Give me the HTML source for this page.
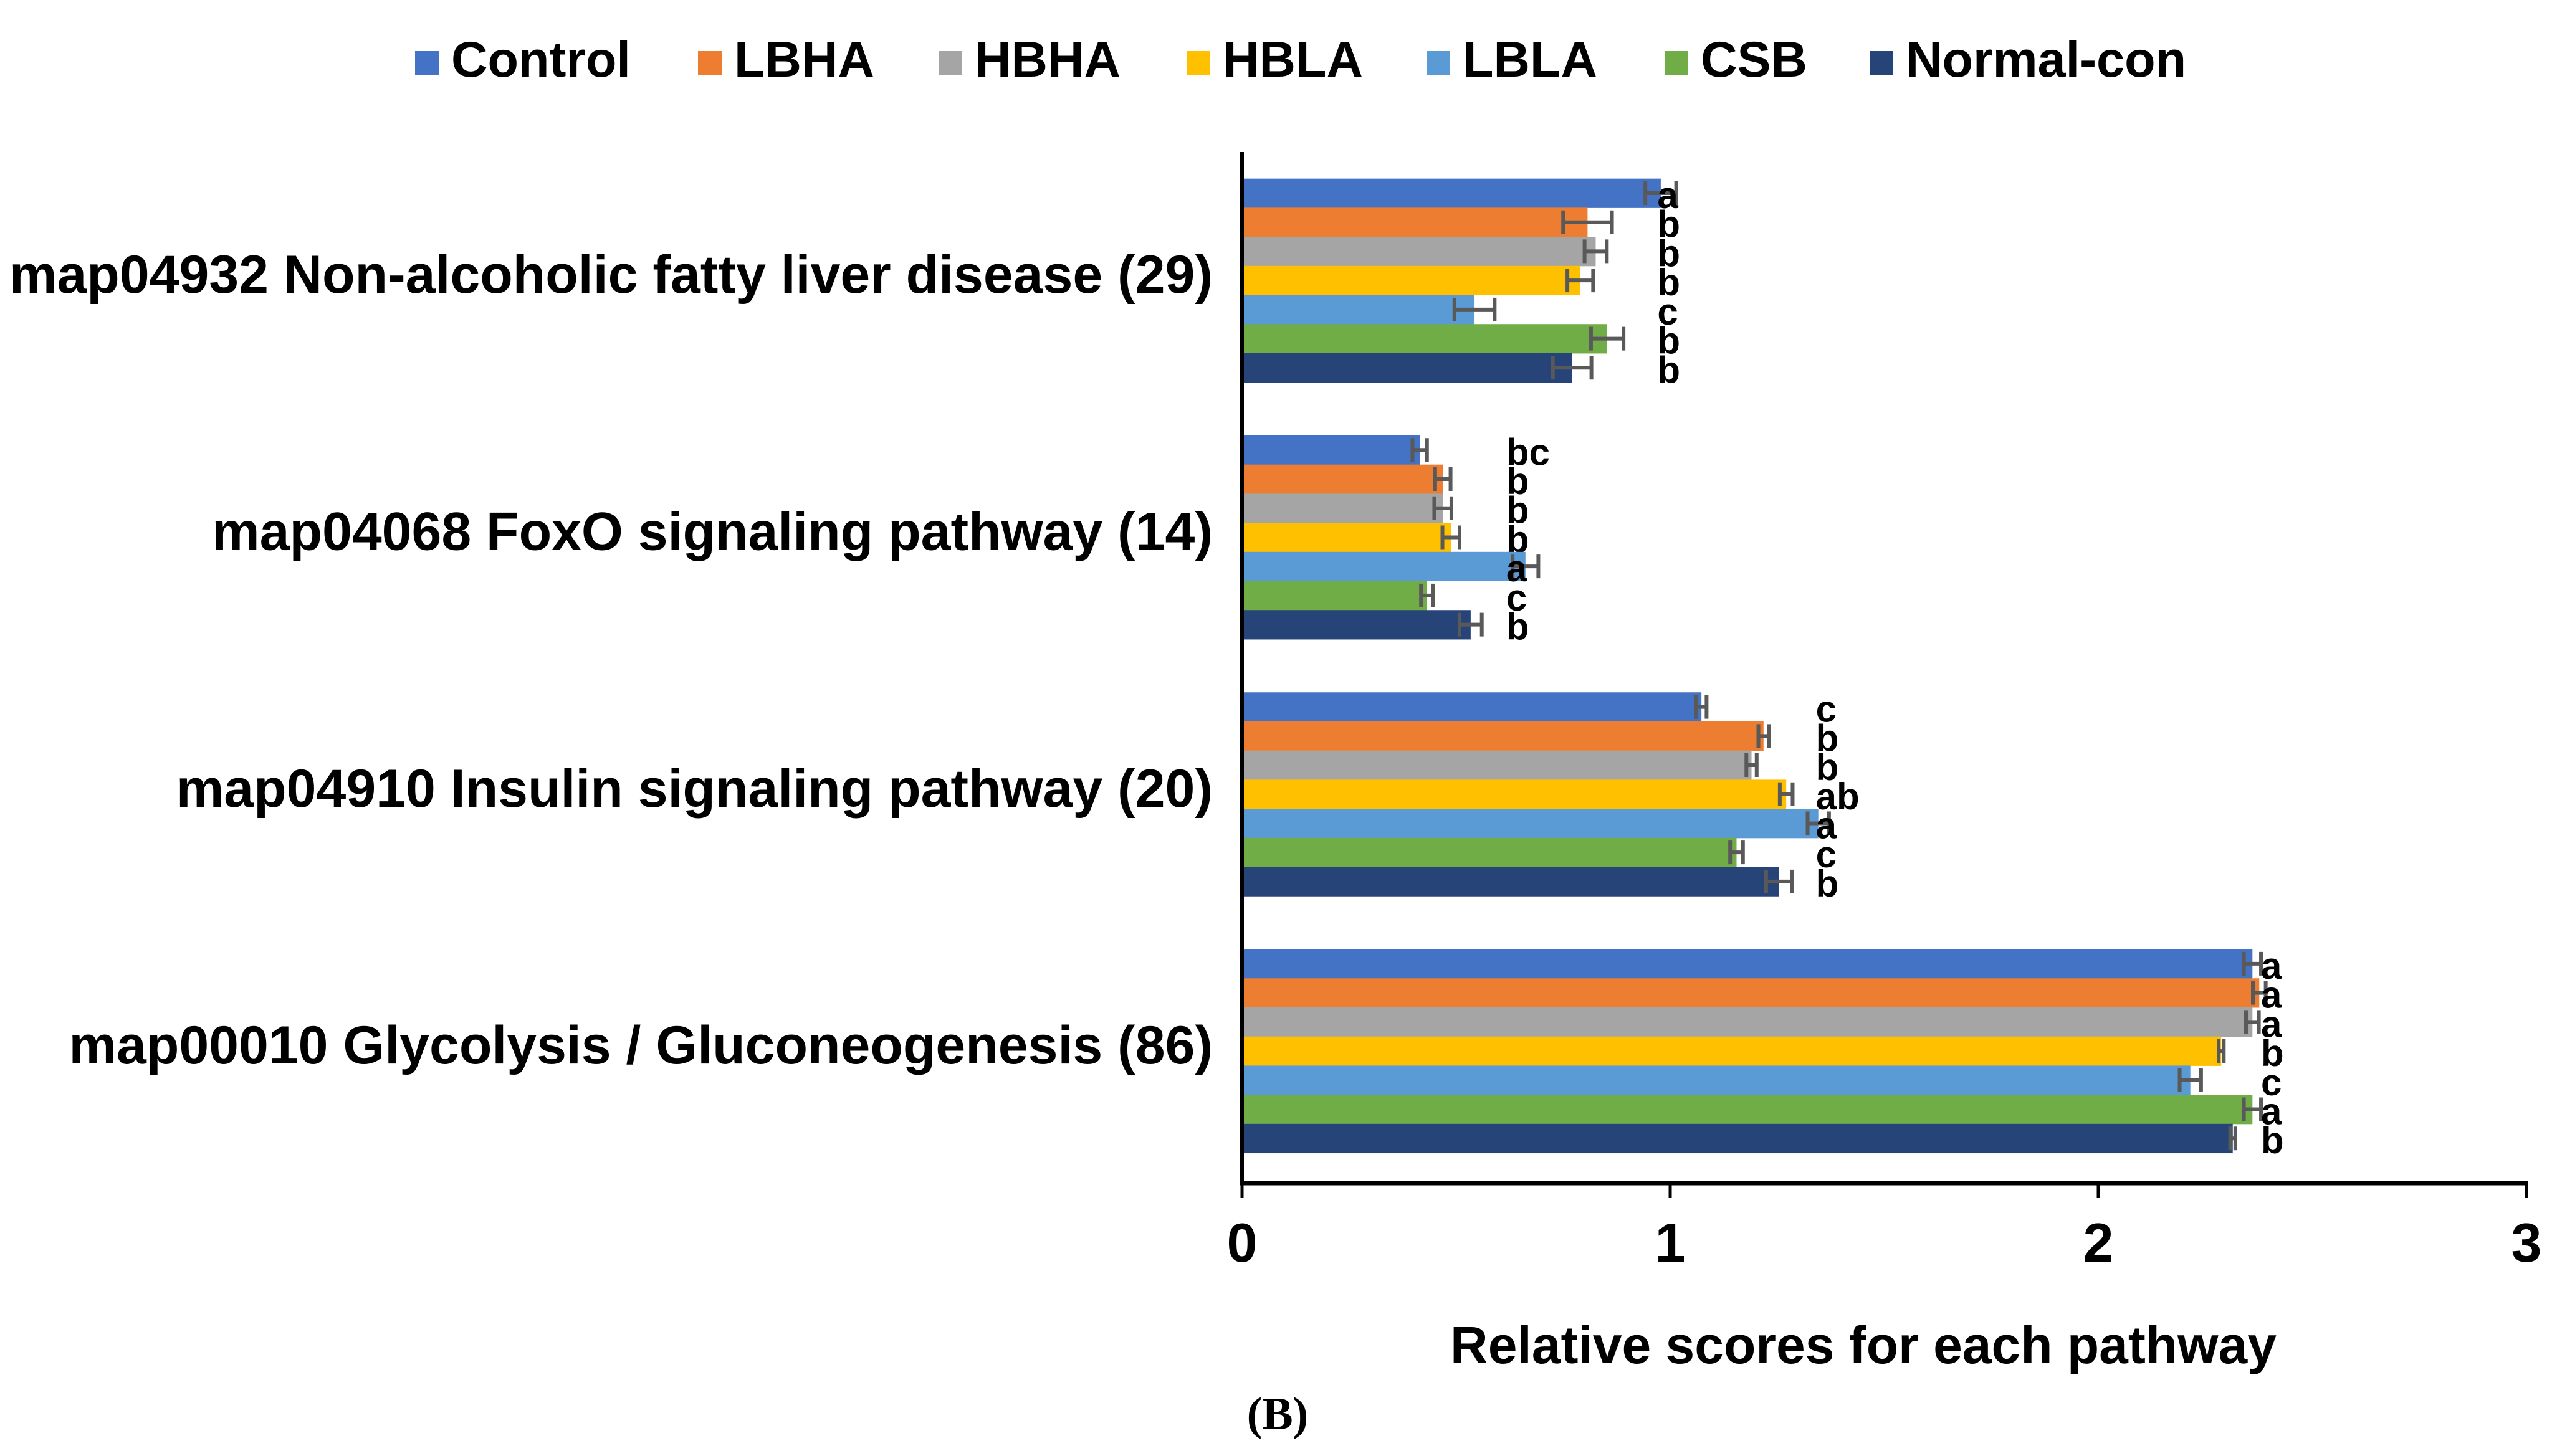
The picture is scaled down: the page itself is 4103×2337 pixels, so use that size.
<!DOCTYPE html>
<html><head><meta charset="utf-8"><style>
html,body{margin:0;padding:0;background:#fff;}
svg{display:block;font-family:"Liberation Sans",Arial,sans-serif;}
</style></head><body>
<svg id="chart" width="4103" height="2337" viewBox="0 0 4103 2337" xmlns="http://www.w3.org/2000/svg">
<g id="legend"></g>
<g id="plot"></g>
<text x="2990" y="2188" text-anchor="middle" font-size="84" font-weight="bold" fill="#000">Relative scores for each pathway</text>
<text x="2050" y="2294" text-anchor="middle" font-size="74" font-weight="bold" font-family="Liberation Serif, serif" fill="#000">(B)</text>
</svg>
<script>
const categories = ["map04932 Non-alcoholic fatty liver disease (29)","map04068 FoxO signaling pathway (14)","map04910 Insulin signaling pathway (20)","map00010 Glycolysis / Gluconeogenesis (86)"];
const seriesNames = ["Control","LBHA","HBHA","HBLA","LBLA","CSB","Normal-con"];
const seriesColors = ["#4472C4","#ED7D31","#A5A5A5","#FFC000","#5B9BD5","#70AD47","#264478"];
const valControl = [0.978,0.415,1.073,2.360];
const valLBHA = [0.807,0.469,1.218,2.376];
const valHBHA = [0.826,0.469,1.190,2.360];
const valHBLA = [0.790,0.488,1.271,2.287];
const valLBLA = [0.543,0.662,1.346,2.215];
const valCSB = [0.853,0.432,1.155,2.360];
const valNormal = [0.771,0.534,1.254,2.314];
const errControl = [0.036,0.017,0.012,0.02];
const errLBHA = [0.057,0.018,0.012,0.015];
const errHBHA = [0.026,0.020,0.012,0.015];
const errHBLA = [0.030,0.020,0.015,0.006];
const errLBLA = [0.047,0.030,0.025,0.025];
const errCSB = [0.038,0.014,0.015,0.02];
const errNormal = [0.045,0.026,0.030,0.006];
const sigControl = ["a","bc","c","a"];
const sigLBHA = ["b","b","b","a"];
const sigHBHA = ["b","b","b","a"];
const sigHBLA = ["b","b","ab","b"];
const sigLBLA = ["c","a","a","c"];
const sigCSB = ["b","c","c","a"];
const sigNormal = ["b","b","b","b"];
const sigLabelX = [0.97,0.617,1.34,2.38];
const xTicks = [0,1,2,3];

const values=[valControl,valLBHA,valHBHA,valHBLA,valLBLA,valCSB,valNormal];
const errs=[errControl,errLBHA,errHBHA,errHBLA,errLBLA,errCSB,errNormal];
const sigs=[sigControl,sigLBHA,sigHBHA,sigHBLA,sigLBLA,sigCSB,sigNormal];
const NS="http://www.w3.org/2000/svg";
const x0=1993, xUnit=687, plotTop=244, band=412.3, axisY=1899;
const xs=v=>x0+v*xUnit;
const groupH=327, barH=groupH/7;
const bandCenter=i=>plotTop+band*(i+0.5);
function mk(tag,attrs,parent){const e=document.createElementNS(NS,tag);for(const k in attrs)e.setAttribute(k,attrs[k]);parent.appendChild(e);return e;}
const plot=document.getElementById('plot');
const legend=document.getElementById('legend');

categories.forEach((c,i)=>{
  const t=mk('text',{x:1946,y:bandCenter(i)+20,'text-anchor':'end','font-size':86,'font-weight':'bold',fill:'#000'},plot);
  
  
  t.textContent=c;
  const gTop=bandCenter(i)-groupH/2;
  for(let s=0;s<7;s++){
    const v=values[s][i], y=gTop+s*barH;
    const r=mk('rect',{x:x0,y:y,width:xs(v)-x0,height:barH+0.5,fill:seriesColors[s]},plot);
    
    
    const e=errs[s][i], cy=y+barH/2;
    const eg=mk('g',{stroke:'#595959','stroke-width':6},plot);
    
    
    mk('line',{x1:xs(v-e),x2:xs(v+e),y1:cy,y2:cy},eg);
    mk('line',{x1:xs(v-e),x2:xs(v-e),y1:cy-19,y2:cy+19},eg);
    mk('line',{x1:xs(v+e),x2:xs(v+e),y1:cy-19,y2:cy+19},eg);
    const st=mk('text',{x:xs(sigLabelX[i]),y:cy+24,'font-size':60,'font-weight':'bold',fill:'#000'},plot);
    
    
    st.textContent=sigs[s][i];
  }
});
const ya=mk('line',{x1:x0,x2:x0,y1:plotTop,y2:axisY,stroke:'#000','stroke-width':6},plot);


const xa=mk('line',{x1:x0-3,x2:xs(3)+3,y1:axisY,y2:axisY,stroke:'#000','stroke-width':7},plot);


xTicks.forEach(t=>{
  const tk=mk('line',{x1:xs(t),x2:xs(t),y1:axisY,y2:axisY+24,stroke:'#000','stroke-width':5},plot);
  
  
  const tl=mk('text',{x:xs(t),y:2025,'text-anchor':'middle','font-size':88,'font-weight':'bold',fill:'#000'},plot);
  
  
  tl.textContent=t;
});
const legX=[666,1120,1506,1904,2289,2671,3000];
seriesNames.forEach((n,s)=>{
  const g=mk('g',{},legend);
  
  
  mk('rect',{x:legX[s],y:82,width:38,height:38,fill:seriesColors[s]},g);
  const t=mk('text',{x:legX[s]+58,y:123,'font-size':81,'font-weight':'bold',fill:'#000'},g);
  t.textContent=n;
});
</script>
</body></html>
